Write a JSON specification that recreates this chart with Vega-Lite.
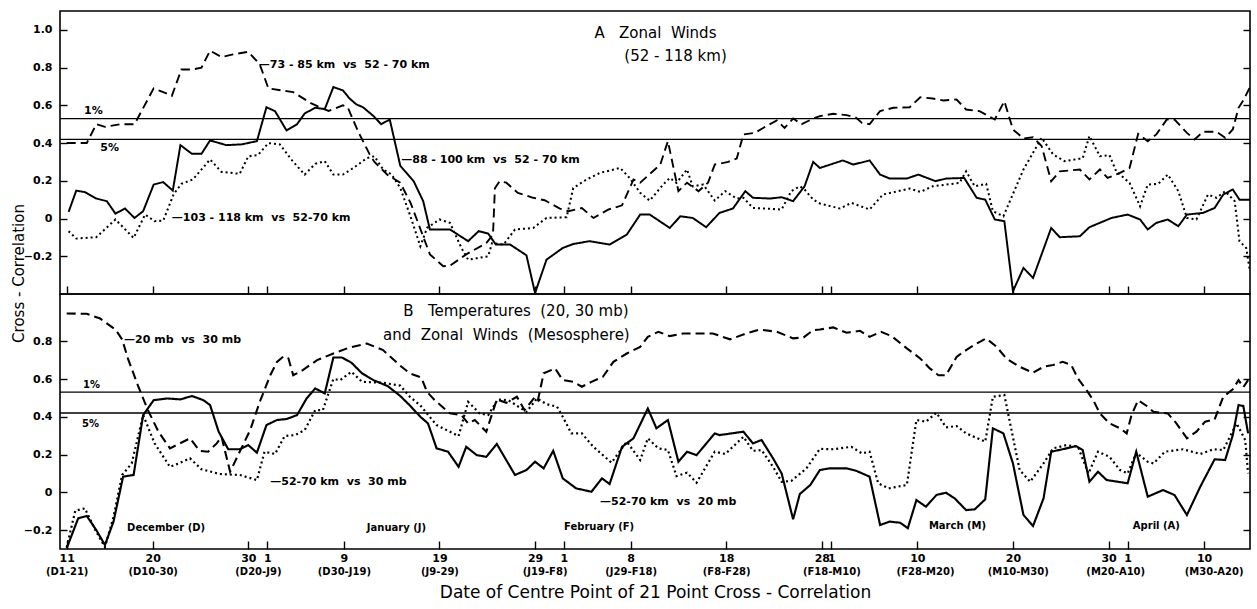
{
  "$schema": "https://vega.github.io/schema/vega-lite/v6.json",
  "padding": {"left": 10, "top": 10, "right": 5, "bottom": 5},
  "background": "white",
  "bounds": "flush",
  "spacing": 0,
  "config": {
    "view": {"stroke": "black", "strokeWidth": 1.6},
    "axis": {"labelFont": "DejaVu Sans", "labelFontWeight": "bold", "labelColor": "black", "tickColor": "black", "tickWidth": 1.4, "titleFont": "DejaVu Sans", "titleColor": "black", "titleFontWeight": "normal", "grid": false, "domain": false, "labelFlush": false, "labelOverlap": false, "labelBound": false},
    "text": {"font": "DejaVu Sans", "color": "black"}
  },
  "datasets": {
    "A": [
      {"series":"73-85 km vs 52-70 km","day":0,"r":0.40},{"series":"73-85 km vs 52-70 km","day":2.1,"r":0.40},{"series":"73-85 km vs 52-70 km","day":3.1,"r":0.50},{"series":"73-85 km vs 52-70 km","day":4.0,"r":0.486},{"series":"73-85 km vs 52-70 km","day":5.6,"r":0.50},{"series":"73-85 km vs 52-70 km","day":7.1,"r":0.50},{"series":"73-85 km vs 52-70 km","day":9.1,"r":0.69},{"series":"73-85 km vs 52-70 km","day":10.1,"r":0.67},{"series":"73-85 km vs 52-70 km","day":11.0,"r":0.65},{"series":"73-85 km vs 52-70 km","day":12.0,"r":0.79},{"series":"73-85 km vs 52-70 km","day":13.2,"r":0.79},{"series":"73-85 km vs 52-70 km","day":14.1,"r":0.80},{"series":"73-85 km vs 52-70 km","day":15.0,"r":0.89},{"series":"73-85 km vs 52-70 km","day":16.2,"r":0.856},{"series":"73-85 km vs 52-70 km","day":17.4,"r":0.87},{"series":"73-85 km vs 52-70 km","day":19.0,"r":0.884},{"series":"73-85 km vs 52-70 km","day":20.2,"r":0.817},{"series":"73-85 km vs 52-70 km","day":21.1,"r":0.69},{"series":"73-85 km vs 52-70 km","day":23.0,"r":0.675},{"series":"73-85 km vs 52-70 km","day":23.7,"r":0.67},{"series":"73-85 km vs 52-70 km","day":25.6,"r":0.61},{"series":"73-85 km vs 52-70 km","day":27.4,"r":0.57},{"series":"73-85 km vs 52-70 km","day":28.9,"r":0.60},{"series":"73-85 km vs 52-70 km","day":29.4,"r":0.59},{"series":"73-85 km vs 52-70 km","day":30.5,"r":0.46},{"series":"73-85 km vs 52-70 km","day":31.7,"r":0.34},{"series":"73-85 km vs 52-70 km","day":32.2,"r":0.30},{"series":"73-85 km vs 52-70 km","day":33.6,"r":0.23},{"series":"73-85 km vs 52-70 km","day":34.9,"r":0.19},{"series":"73-85 km vs 52-70 km","day":36.0,"r":0.08},{"series":"73-85 km vs 52-70 km","day":38.0,"r":-0.19},{"series":"73-85 km vs 52-70 km","day":39.4,"r":-0.253},{"series":"73-85 km vs 52-70 km","day":40.1,"r":-0.25},{"series":"73-85 km vs 52-70 km","day":41.8,"r":-0.19},{"series":"73-85 km vs 52-70 km","day":43.9,"r":-0.13},{"series":"73-85 km vs 52-70 km","day":44.6,"r":-0.085},{"series":"73-85 km vs 52-70 km","day":44.8,"r":0.16},{"series":"73-85 km vs 52-70 km","day":45.3,"r":0.198},{"series":"73-85 km vs 52-70 km","day":46.0,"r":0.19},{"series":"73-85 km vs 52-70 km","day":47.2,"r":0.136},{"series":"73-85 km vs 52-70 km","day":48.8,"r":0.11},{"series":"73-85 km vs 52-70 km","day":50.0,"r":0.097},{"series":"73-85 km vs 52-70 km","day":51.6,"r":0.053},{"series":"73-85 km vs 52-70 km","day":52.5,"r":0.039},{"series":"73-85 km vs 52-70 km","day":53.9,"r":0.056},{"series":"73-85 km vs 52-70 km","day":55.1,"r":0.003},{"series":"73-85 km vs 52-70 km","day":56.7,"r":0.048},{"series":"73-85 km vs 52-70 km","day":58.1,"r":0.07},{"series":"73-85 km vs 52-70 km","day":59.3,"r":0.207},{"series":"73-85 km vs 52-70 km","day":60.0,"r":0.19},{"series":"73-85 km vs 52-70 km","day":62.1,"r":0.286},{"series":"73-85 km vs 52-70 km","day":62.9,"r":0.41},{"series":"73-85 km vs 52-70 km","day":64.0,"r":0.145},{"series":"73-85 km vs 52-70 km","day":64.9,"r":0.19},{"series":"73-85 km vs 52-70 km","day":66.1,"r":0.145},{"series":"73-85 km vs 52-70 km","day":67.1,"r":0.19},{"series":"73-85 km vs 52-70 km","day":67.8,"r":0.286},{"series":"73-85 km vs 52-70 km","day":69.2,"r":0.30},{"series":"73-85 km vs 52-70 km","day":70.1,"r":0.318},{"series":"73-85 km vs 52-70 km","day":70.8,"r":0.446},{"series":"73-85 km vs 52-70 km","day":72.0,"r":0.454},{"series":"73-85 km vs 52-70 km","day":73.2,"r":0.49},{"series":"73-85 km vs 52-70 km","day":74.3,"r":0.52},{"series":"73-85 km vs 52-70 km","day":75.1,"r":0.48},{"series":"73-85 km vs 52-70 km","day":76.0,"r":0.53},{"series":"73-85 km vs 52-70 km","day":76.9,"r":0.50},{"series":"73-85 km vs 52-70 km","day":78.1,"r":0.53},{"series":"73-85 km vs 52-70 km","day":78.8,"r":0.543},{"series":"73-85 km vs 52-70 km","day":80.2,"r":0.555},{"series":"73-85 km vs 52-70 km","day":81.6,"r":0.548},{"series":"73-85 km vs 52-70 km","day":82.6,"r":0.534},{"series":"73-85 km vs 52-70 km","day":83.2,"r":0.507},{"series":"73-85 km vs 52-70 km","day":84.0,"r":0.50},{"series":"73-85 km vs 52-70 km","day":84.4,"r":0.525},{"series":"73-85 km vs 52-70 km","day":85.1,"r":0.57},{"series":"73-85 km vs 52-70 km","day":86.5,"r":0.587},{"series":"73-85 km vs 52-70 km","day":88.2,"r":0.59},{"series":"73-85 km vs 52-70 km","day":89.3,"r":0.643},{"series":"73-85 km vs 52-70 km","day":90.6,"r":0.636},{"series":"73-85 km vs 52-70 km","day":91.7,"r":0.626},{"series":"73-85 km vs 52-70 km","day":93.1,"r":0.631},{"series":"73-85 km vs 52-70 km","day":94.1,"r":0.578},{"series":"73-85 km vs 52-70 km","day":95.5,"r":0.569},{"series":"73-85 km vs 52-70 km","day":97.1,"r":0.525},{"series":"73-85 km vs 52-70 km","day":98.1,"r":0.622},{"series":"73-85 km vs 52-70 km","day":99.0,"r":0.472},{"series":"73-85 km vs 52-70 km","day":100.1,"r":0.424},{"series":"73-85 km vs 52-70 km","day":101.1,"r":0.431},{"series":"73-85 km vs 52-70 km","day":102.0,"r":0.384},{"series":"73-85 km vs 52-70 km","day":103.0,"r":0.198},{"series":"73-85 km vs 52-70 km","day":103.9,"r":0.25},{"series":"73-85 km vs 52-70 km","day":106.0,"r":0.26},{"series":"73-85 km vs 52-70 km","day":107.0,"r":0.207},{"series":"73-85 km vs 52-70 km","day":108.1,"r":0.26},{"series":"73-85 km vs 52-70 km","day":108.9,"r":0.215},{"series":"73-85 km vs 52-70 km","day":110.2,"r":0.242},{"series":"73-85 km vs 52-70 km","day":111.2,"r":0.268},{"series":"73-85 km vs 52-70 km","day":112.1,"r":0.449},{"series":"73-85 km vs 52-70 km","day":113.1,"r":0.41},{"series":"73-85 km vs 52-70 km","day":114.0,"r":0.446},{"series":"73-85 km vs 52-70 km","day":115.1,"r":0.525},{"series":"73-85 km vs 52-70 km","day":115.9,"r":0.525},{"series":"73-85 km vs 52-70 km","day":117.2,"r":0.454},{"series":"73-85 km vs 52-70 km","day":118.0,"r":0.419},{"series":"73-85 km vs 52-70 km","day":118.9,"r":0.46},{"series":"73-85 km vs 52-70 km","day":120.3,"r":0.46},{"series":"73-85 km vs 52-70 km","day":121.2,"r":0.428},{"series":"73-85 km vs 52-70 km","day":122.0,"r":0.472},{"series":"73-85 km vs 52-70 km","day":122.6,"r":0.587},{"series":"73-85 km vs 52-70 km","day":123.1,"r":0.626},{"series":"73-85 km vs 52-70 km","day":123.8,"r":0.697},
      {"series":"88-100 km vs 52-70 km","day":0.2,"r":0.035},{"series":"88-100 km vs 52-70 km","day":1.0,"r":0.148},{"series":"88-100 km vs 52-70 km","day":1.9,"r":0.14},{"series":"88-100 km vs 52-70 km","day":3.1,"r":0.106},{"series":"88-100 km vs 52-70 km","day":4.2,"r":0.092},{"series":"88-100 km vs 52-70 km","day":5.1,"r":0.026},{"series":"88-100 km vs 52-70 km","day":6.1,"r":0.053},{"series":"88-100 km vs 52-70 km","day":7.1,"r":0.003},{"series":"88-100 km vs 52-70 km","day":8.0,"r":0.039},{"series":"88-100 km vs 52-70 km","day":9.1,"r":0.18},{"series":"88-100 km vs 52-70 km","day":10.1,"r":0.193},{"series":"88-100 km vs 52-70 km","day":11.1,"r":0.148},{"series":"88-100 km vs 52-70 km","day":11.9,"r":0.389},{"series":"88-100 km vs 52-70 km","day":13.1,"r":0.343},{"series":"88-100 km vs 52-70 km","day":14.1,"r":0.343},{"series":"88-100 km vs 52-70 km","day":15.0,"r":0.414},{"series":"88-100 km vs 52-70 km","day":16.7,"r":0.389},{"series":"88-100 km vs 52-70 km","day":18.3,"r":0.393},{"series":"88-100 km vs 52-70 km","day":19.9,"r":0.41},{"series":"88-100 km vs 52-70 km","day":20.9,"r":0.59},{"series":"88-100 km vs 52-70 km","day":21.8,"r":0.569},{"series":"88-100 km vs 52-70 km","day":23.0,"r":0.467},{"series":"88-100 km vs 52-70 km","day":24.1,"r":0.50},{"series":"88-100 km vs 52-70 km","day":24.9,"r":0.557},{"series":"88-100 km vs 52-70 km","day":26.0,"r":0.587},{"series":"88-100 km vs 52-70 km","day":27.0,"r":0.58},{"series":"88-100 km vs 52-70 km","day":27.9,"r":0.697},{"series":"88-100 km vs 52-70 km","day":28.9,"r":0.679},{"series":"88-100 km vs 52-70 km","day":29.6,"r":0.636},{"series":"88-100 km vs 52-70 km","day":30.3,"r":0.605},{"series":"88-100 km vs 52-70 km","day":31.0,"r":0.59},{"series":"88-100 km vs 52-70 km","day":32.1,"r":0.543},{"series":"88-100 km vs 52-70 km","day":32.9,"r":0.50},{"series":"88-100 km vs 52-70 km","day":33.8,"r":0.525},{"series":"88-100 km vs 52-70 km","day":34.9,"r":0.28},{"series":"88-100 km vs 52-70 km","day":36.3,"r":0.198},{"series":"88-100 km vs 52-70 km","day":37.3,"r":0.092},{"series":"88-100 km vs 52-70 km","day":38.0,"r":-0.058},{"series":"88-100 km vs 52-70 km","day":40.1,"r":-0.058},{"series":"88-100 km vs 52-70 km","day":42.0,"r":-0.12},{"series":"88-100 km vs 52-70 km","day":43.1,"r":-0.067},{"series":"88-100 km vs 52-70 km","day":44.1,"r":-0.08},{"series":"88-100 km vs 52-70 km","day":44.9,"r":-0.138},{"series":"88-100 km vs 52-70 km","day":46.4,"r":-0.138},{"series":"88-100 km vs 52-70 km","day":48.1,"r":-0.195},{"series":"88-100 km vs 52-70 km","day":49.0,"r":-0.395},{"series":"88-100 km vs 52-70 km","day":50.2,"r":-0.218},{"series":"88-100 km vs 52-70 km","day":51.9,"r":-0.156},{"series":"88-100 km vs 52-70 km","day":53.0,"r":-0.135},{"series":"88-100 km vs 52-70 km","day":54.7,"r":-0.12},{"series":"88-100 km vs 52-70 km","day":56.8,"r":-0.138},{"series":"88-100 km vs 52-70 km","day":58.6,"r":-0.085},{"series":"88-100 km vs 52-70 km","day":60.0,"r":0.021},{"series":"88-100 km vs 52-70 km","day":61.0,"r":0.021},{"series":"88-100 km vs 52-70 km","day":63.1,"r":-0.05},{"series":"88-100 km vs 52-70 km","day":64.2,"r":0.012},{"series":"88-100 km vs 52-70 km","day":65.5,"r":0.003},{"series":"88-100 km vs 52-70 km","day":66.9,"r":-0.046},{"series":"88-100 km vs 52-70 km","day":68.3,"r":0.03},{"series":"88-100 km vs 52-70 km","day":69.7,"r":0.053},{"series":"88-100 km vs 52-70 km","day":71.0,"r":0.145},{"series":"88-100 km vs 52-70 km","day":71.8,"r":0.11},{"series":"88-100 km vs 52-70 km","day":73.6,"r":0.106},{"series":"88-100 km vs 52-70 km","day":74.8,"r":0.113},{"series":"88-100 km vs 52-70 km","day":76.0,"r":0.092},{"series":"88-100 km vs 52-70 km","day":77.2,"r":0.171},{"series":"88-100 km vs 52-70 km","day":78.1,"r":0.30},{"series":"88-100 km vs 52-70 km","day":78.8,"r":0.268},{"series":"88-100 km vs 52-70 km","day":81.2,"r":0.308},{"series":"88-100 km vs 52-70 km","day":82.3,"r":0.286},{"series":"88-100 km vs 52-70 km","day":84.0,"r":0.308},{"series":"88-100 km vs 52-70 km","day":85.1,"r":0.233},{"series":"88-100 km vs 52-70 km","day":86.1,"r":0.212},{"series":"88-100 km vs 52-70 km","day":87.9,"r":0.212},{"series":"88-100 km vs 52-70 km","day":89.1,"r":0.233},{"series":"88-100 km vs 52-70 km","day":90.9,"r":0.198},{"series":"88-100 km vs 52-70 km","day":92.0,"r":0.212},{"series":"88-100 km vs 52-70 km","day":93.9,"r":0.215},{"series":"88-100 km vs 52-70 km","day":95.2,"r":0.11},{"series":"88-100 km vs 52-70 km","day":96.1,"r":0.10},{"series":"88-100 km vs 52-70 km","day":97.1,"r":-0.005},{"series":"88-100 km vs 52-70 km","day":98.1,"r":-0.014},{"series":"88-100 km vs 52-70 km","day":99.0,"r":-0.385},{"series":"88-100 km vs 52-70 km","day":100.1,"r":-0.262},{"series":"88-100 km vs 52-70 km","day":101.1,"r":-0.315},{"series":"88-100 km vs 52-70 km","day":103.0,"r":-0.05},{"series":"88-100 km vs 52-70 km","day":103.9,"r":-0.099},{"series":"88-100 km vs 52-70 km","day":106.0,"r":-0.094},{"series":"88-100 km vs 52-70 km","day":107.0,"r":-0.046},{"series":"88-100 km vs 52-70 km","day":109.3,"r":0.003},{"series":"88-100 km vs 52-70 km","day":111.0,"r":0.021},{"series":"88-100 km vs 52-70 km","day":112.3,"r":-0.005},{"series":"88-100 km vs 52-70 km","day":113.1,"r":-0.058},{"series":"88-100 km vs 52-70 km","day":114.0,"r":-0.023},{"series":"88-100 km vs 52-70 km","day":115.2,"r":-0.005},{"series":"88-100 km vs 52-70 km","day":116.3,"r":-0.041},{"series":"88-100 km vs 52-70 km","day":117.2,"r":0.021},{"series":"88-100 km vs 52-70 km","day":118.9,"r":0.03},{"series":"88-100 km vs 52-70 km","day":120.1,"r":0.056},{"series":"88-100 km vs 52-70 km","day":121.0,"r":0.127},{"series":"88-100 km vs 52-70 km","day":122.0,"r":0.154},{"series":"88-100 km vs 52-70 km","day":122.7,"r":0.10},{"series":"88-100 km vs 52-70 km","day":123.8,"r":0.10},
      {"series":"103-118 km vs 52-70 km","day":0.2,"r":-0.067},{"series":"103-118 km vs 52-70 km","day":1.0,"r":-0.106},{"series":"103-118 km vs 52-70 km","day":3.1,"r":-0.099},{"series":"103-118 km vs 52-70 km","day":5.1,"r":-0.005},{"series":"103-118 km vs 52-70 km","day":7.0,"r":-0.103},{"series":"103-118 km vs 52-70 km","day":8.2,"r":0.021},{"series":"103-118 km vs 52-70 km","day":9.2,"r":-0.014},{"series":"103-118 km vs 52-70 km","day":10.1,"r":-0.011},{"series":"103-118 km vs 52-70 km","day":11.2,"r":0.13},{"series":"103-118 km vs 52-70 km","day":12.0,"r":0.184},{"series":"103-118 km vs 52-70 km","day":13.2,"r":0.207},{"series":"103-118 km vs 52-70 km","day":15.0,"r":0.313},{"series":"103-118 km vs 52-70 km","day":16.2,"r":0.247},{"series":"103-118 km vs 52-70 km","day":18.1,"r":0.237},{"series":"103-118 km vs 52-70 km","day":19.0,"r":0.33},{"series":"103-118 km vs 52-70 km","day":20.0,"r":0.336},{"series":"103-118 km vs 52-70 km","day":21.1,"r":0.40},{"series":"103-118 km vs 52-70 km","day":22.3,"r":0.393},{"series":"103-118 km vs 52-70 km","day":23.5,"r":0.313},{"series":"103-118 km vs 52-70 km","day":24.9,"r":0.233},{"series":"103-118 km vs 52-70 km","day":26.0,"r":0.29},{"series":"103-118 km vs 52-70 km","day":27.0,"r":0.304},{"series":"103-118 km vs 52-70 km","day":27.9,"r":0.233},{"series":"103-118 km vs 52-70 km","day":28.9,"r":0.233},{"series":"103-118 km vs 52-70 km","day":30.0,"r":0.268},{"series":"103-118 km vs 52-70 km","day":31.4,"r":0.32},{"series":"103-118 km vs 52-70 km","day":32.2,"r":0.33},{"series":"103-118 km vs 52-70 km","day":33.1,"r":0.26},{"series":"103-118 km vs 52-70 km","day":34.0,"r":0.233},{"series":"103-118 km vs 52-70 km","day":34.9,"r":0.162},{"series":"103-118 km vs 52-70 km","day":35.9,"r":0.021},{"series":"103-118 km vs 52-70 km","day":37.0,"r":-0.147},{"series":"103-118 km vs 52-70 km","day":37.7,"r":-0.05},{"series":"103-118 km vs 52-70 km","day":39.0,"r":-0.005},{"series":"103-118 km vs 52-70 km","day":40.1,"r":-0.023},{"series":"103-118 km vs 52-70 km","day":41.3,"r":-0.156},{"series":"103-118 km vs 52-70 km","day":42.0,"r":-0.218},{"series":"103-118 km vs 52-70 km","day":44.1,"r":-0.2},{"series":"103-118 km vs 52-70 km","day":44.5,"r":-0.13},{"series":"103-118 km vs 52-70 km","day":45.7,"r":-0.138},{"series":"103-118 km vs 52-70 km","day":46.9,"r":-0.058},{"series":"103-118 km vs 52-70 km","day":48.8,"r":-0.05},{"series":"103-118 km vs 52-70 km","day":50.2,"r":0.003},{"series":"103-118 km vs 52-70 km","day":52.3,"r":0.007},{"series":"103-118 km vs 52-70 km","day":53.0,"r":0.162},{"series":"103-118 km vs 52-70 km","day":54.4,"r":0.207},{"series":"103-118 km vs 52-70 km","day":55.8,"r":0.242},{"series":"103-118 km vs 52-70 km","day":57.9,"r":0.268},{"series":"103-118 km vs 52-70 km","day":58.9,"r":0.215},{"series":"103-118 km vs 52-70 km","day":60.0,"r":0.136},{"series":"103-118 km vs 52-70 km","day":61.0,"r":0.095},{"series":"103-118 km vs 52-70 km","day":62.4,"r":0.18},{"series":"103-118 km vs 52-70 km","day":63.1,"r":0.215},{"series":"103-118 km vs 52-70 km","day":63.8,"r":0.189},{"series":"103-118 km vs 52-70 km","day":64.9,"r":0.26},{"series":"103-118 km vs 52-70 km","day":65.5,"r":0.171},{"series":"103-118 km vs 52-70 km","day":66.6,"r":0.18},{"series":"103-118 km vs 52-70 km","day":67.8,"r":0.095},{"series":"103-118 km vs 52-70 km","day":68.9,"r":0.145},{"series":"103-118 km vs 52-70 km","day":70.1,"r":0.106},{"series":"103-118 km vs 52-70 km","day":70.8,"r":0.11},{"series":"103-118 km vs 52-70 km","day":71.8,"r":0.056},{"series":"103-118 km vs 52-70 km","day":74.8,"r":0.048},{"series":"103-118 km vs 52-70 km","day":75.8,"r":0.145},{"series":"103-118 km vs 52-70 km","day":76.7,"r":0.171},{"series":"103-118 km vs 52-70 km","day":77.2,"r":0.154},{"series":"103-118 km vs 52-70 km","day":78.1,"r":0.10},{"series":"103-118 km vs 52-70 km","day":78.8,"r":0.08},{"series":"103-118 km vs 52-70 km","day":80.9,"r":0.053},{"series":"103-118 km vs 52-70 km","day":82.1,"r":0.083},{"series":"103-118 km vs 52-70 km","day":84.0,"r":0.048},{"series":"103-118 km vs 52-70 km","day":85.4,"r":0.127},{"series":"103-118 km vs 52-70 km","day":88.2,"r":0.159},{"series":"103-118 km vs 52-70 km","day":89.3,"r":0.141},{"series":"103-118 km vs 52-70 km","day":90.6,"r":0.171},{"series":"103-118 km vs 52-70 km","day":93.4,"r":0.189},{"series":"103-118 km vs 52-70 km","day":94.1,"r":0.25},{"series":"103-118 km vs 52-70 km","day":95.0,"r":0.171},{"series":"103-118 km vs 52-70 km","day":96.2,"r":0.184},{"series":"103-118 km vs 52-70 km","day":96.9,"r":0.039},{"series":"103-118 km vs 52-70 km","day":98.0,"r":0.012},{"series":"103-118 km vs 52-70 km","day":100.1,"r":0.26},{"series":"103-118 km vs 52-70 km","day":102.0,"r":0.428},{"series":"103-118 km vs 52-70 km","day":103.2,"r":0.34},{"series":"103-118 km vs 52-70 km","day":104.4,"r":0.304},{"series":"103-118 km vs 52-70 km","day":106.3,"r":0.32},{"series":"103-118 km vs 52-70 km","day":107.0,"r":0.437},{"series":"103-118 km vs 52-70 km","day":108.1,"r":0.33},{"series":"103-118 km vs 52-70 km","day":109.1,"r":0.336},{"series":"103-118 km vs 52-70 km","day":109.8,"r":0.25},{"series":"103-118 km vs 52-70 km","day":111.2,"r":0.189},{"series":"103-118 km vs 52-70 km","day":112.3,"r":0.065},{"series":"103-118 km vs 52-70 km","day":113.1,"r":0.18},{"series":"103-118 km vs 52-70 km","day":114.2,"r":0.184},{"series":"103-118 km vs 52-70 km","day":115.2,"r":0.233},{"series":"103-118 km vs 52-70 km","day":116.3,"r":0.145},{"series":"103-118 km vs 52-70 km","day":117.2,"r":0.003},{"series":"103-118 km vs 52-70 km","day":118.2,"r":-0.005},{"series":"103-118 km vs 52-70 km","day":119.4,"r":0.127},{"series":"103-118 km vs 52-70 km","day":120.3,"r":0.11},{"series":"103-118 km vs 52-70 km","day":121.2,"r":0.145},{"series":"103-118 km vs 52-70 km","day":122.2,"r":0.092},{"series":"103-118 km vs 52-70 km","day":122.7,"r":-0.12},{"series":"103-118 km vs 52-70 km","day":123.4,"r":-0.156},{"series":"103-118 km vs 52-70 km","day":123.8,"r":-0.28}
    ],
    "B": [
      {"series":"20 mb vs 30 mb","day":0,"r":0.947},{"series":"20 mb vs 30 mb","day":2.1,"r":0.945},{"series":"20 mb vs 30 mb","day":3.5,"r":0.92},{"series":"20 mb vs 30 mb","day":5.1,"r":0.862},{"series":"20 mb vs 30 mb","day":5.8,"r":0.81},{"series":"20 mb vs 30 mb","day":6.4,"r":0.709},{"series":"20 mb vs 30 mb","day":7.5,"r":0.559},{"series":"20 mb vs 30 mb","day":8.5,"r":0.435},{"series":"20 mb vs 30 mb","day":9.6,"r":0.321},{"series":"20 mb vs 30 mb","day":10.8,"r":0.233},{"series":"20 mb vs 30 mb","day":12.9,"r":0.286},{"series":"20 mb vs 30 mb","day":13.9,"r":0.22},{"series":"20 mb vs 30 mb","day":14.8,"r":0.215},{"series":"20 mb vs 30 mb","day":15.7,"r":0.259},{"series":"20 mb vs 30 mb","day":16.2,"r":0.294},{"series":"20 mb vs 30 mb","day":17.1,"r":0.109},{"series":"20 mb vs 30 mb","day":18.1,"r":0.215},{"series":"20 mb vs 30 mb","day":19.2,"r":0.33},{"series":"20 mb vs 30 mb","day":20.2,"r":0.479},{"series":"20 mb vs 30 mb","day":21.3,"r":0.62},{"series":"20 mb vs 30 mb","day":22.0,"r":0.69},{"series":"20 mb vs 30 mb","day":22.7,"r":0.72},{"series":"20 mb vs 30 mb","day":23.2,"r":0.709},{"series":"20 mb vs 30 mb","day":23.7,"r":0.62},{"series":"20 mb vs 30 mb","day":24.7,"r":0.647},{"series":"20 mb vs 30 mb","day":26.2,"r":0.70},{"series":"20 mb vs 30 mb","day":27.9,"r":0.735},{"series":"20 mb vs 30 mb","day":29.6,"r":0.767},{"series":"20 mb vs 30 mb","day":31.4,"r":0.788},{"series":"20 mb vs 30 mb","day":33.1,"r":0.753},{"series":"20 mb vs 30 mb","day":34.9,"r":0.67},{"series":"20 mb vs 30 mb","day":35.9,"r":0.63},{"series":"20 mb vs 30 mb","day":37.1,"r":0.608},{"series":"20 mb vs 30 mb","day":37.7,"r":0.532},{"series":"20 mb vs 30 mb","day":38.5,"r":0.488},{"series":"20 mb vs 30 mb","day":40.1,"r":0.418},{"series":"20 mb vs 30 mb","day":41.3,"r":0.409},{"series":"20 mb vs 30 mb","day":42.0,"r":0.365},{"series":"20 mb vs 30 mb","day":42.7,"r":0.383},{"series":"20 mb vs 30 mb","day":43.9,"r":0.321},{"series":"20 mb vs 30 mb","day":45.0,"r":0.492},{"series":"20 mb vs 30 mb","day":46.0,"r":0.474},{"series":"20 mb vs 30 mb","day":47.1,"r":0.506},{"series":"20 mb vs 30 mb","day":47.9,"r":0.435},{"series":"20 mb vs 30 mb","day":49.0,"r":0.506},{"series":"20 mb vs 30 mb","day":49.3,"r":0.488},{"series":"20 mb vs 30 mb","day":49.9,"r":0.63},{"series":"20 mb vs 30 mb","day":51.1,"r":0.656},{"series":"20 mb vs 30 mb","day":51.9,"r":0.594},{"series":"20 mb vs 30 mb","day":53.0,"r":0.585},{"series":"20 mb vs 30 mb","day":53.9,"r":0.559},{"series":"20 mb vs 30 mb","day":54.9,"r":0.585},{"series":"20 mb vs 30 mb","day":56.1,"r":0.612},{"series":"20 mb vs 30 mb","day":57.2,"r":0.691},{"series":"20 mb vs 30 mb","day":58.6,"r":0.735},{"series":"20 mb vs 30 mb","day":60.0,"r":0.77},{"series":"20 mb vs 30 mb","day":60.8,"r":0.823},{"series":"20 mb vs 30 mb","day":61.9,"r":0.85},{"series":"20 mb vs 30 mb","day":63.1,"r":0.827},{"series":"20 mb vs 30 mb","day":64.5,"r":0.841},{"series":"20 mb vs 30 mb","day":67.6,"r":0.841},{"series":"20 mb vs 30 mb","day":69.4,"r":0.81},{"series":"20 mb vs 30 mb","day":71.1,"r":0.841},{"series":"20 mb vs 30 mb","day":72.5,"r":0.862},{"series":"20 mb vs 30 mb","day":74.3,"r":0.85},{"series":"20 mb vs 30 mb","day":76.0,"r":0.815},{"series":"20 mb vs 30 mb","day":77.1,"r":0.82},{"series":"20 mb vs 30 mb","day":78.1,"r":0.859},{"series":"20 mb vs 30 mb","day":78.8,"r":0.862},{"series":"20 mb vs 30 mb","day":80.2,"r":0.873},{"series":"20 mb vs 30 mb","day":81.6,"r":0.845},{"series":"20 mb vs 30 mb","day":83.0,"r":0.855},{"series":"20 mb vs 30 mb","day":84.0,"r":0.823},{"series":"20 mb vs 30 mb","day":85.2,"r":0.85},{"series":"20 mb vs 30 mb","day":86.3,"r":0.827},{"series":"20 mb vs 30 mb","day":87.9,"r":0.762},{"series":"20 mb vs 30 mb","day":89.3,"r":0.709},{"series":"20 mb vs 30 mb","day":90.3,"r":0.656},{"series":"20 mb vs 30 mb","day":91.2,"r":0.62},{"series":"20 mb vs 30 mb","day":92.0,"r":0.62},{"series":"20 mb vs 30 mb","day":93.1,"r":0.717},{"series":"20 mb vs 30 mb","day":94.1,"r":0.753},{"series":"20 mb vs 30 mb","day":95.2,"r":0.788},{"series":"20 mb vs 30 mb","day":96.2,"r":0.815},{"series":"20 mb vs 30 mb","day":97.3,"r":0.77},{"series":"20 mb vs 30 mb","day":98.3,"r":0.709},{"series":"20 mb vs 30 mb","day":99.7,"r":0.665},{"series":"20 mb vs 30 mb","day":101.1,"r":0.633},{"series":"20 mb vs 30 mb","day":102.2,"r":0.665},{"series":"20 mb vs 30 mb","day":103.2,"r":0.674},{"series":"20 mb vs 30 mb","day":104.2,"r":0.691},{"series":"20 mb vs 30 mb","day":105.1,"r":0.674},{"series":"20 mb vs 30 mb","day":105.8,"r":0.603},{"series":"20 mb vs 30 mb","day":106.7,"r":0.541},{"series":"20 mb vs 30 mb","day":107.4,"r":0.488},{"series":"20 mb vs 30 mb","day":108.1,"r":0.418},{"series":"20 mb vs 30 mb","day":109.1,"r":0.365},{"series":"20 mb vs 30 mb","day":110.2,"r":0.339},{"series":"20 mb vs 30 mb","day":110.9,"r":0.312},{"series":"20 mb vs 30 mb","day":111.4,"r":0.409},{"series":"20 mb vs 30 mb","day":112.1,"r":0.488},{"series":"20 mb vs 30 mb","day":113.0,"r":0.457},{"series":"20 mb vs 30 mb","day":113.7,"r":0.426},{"series":"20 mb vs 30 mb","day":115.2,"r":0.418},{"series":"20 mb vs 30 mb","day":116.1,"r":0.365},{"series":"20 mb vs 30 mb","day":117.2,"r":0.286},{"series":"20 mb vs 30 mb","day":118.2,"r":0.321},{"series":"20 mb vs 30 mb","day":119.1,"r":0.374},{"series":"20 mb vs 30 mb","day":120.1,"r":0.386},{"series":"20 mb vs 30 mb","day":121.0,"r":0.506},{"series":"20 mb vs 30 mb","day":122.0,"r":0.545},{"series":"20 mb vs 30 mb","day":122.6,"r":0.594},{"series":"20 mb vs 30 mb","day":123.1,"r":0.556},{"series":"20 mb vs 30 mb","day":123.6,"r":0.594},
      {"series":"52-70 km vs 20 mb","day":0,"r":-0.296},{"series":"52-70 km vs 20 mb","day":1.2,"r":-0.138},{"series":"52-70 km vs 20 mb","day":2.1,"r":-0.125},{"series":"52-70 km vs 20 mb","day":3.1,"r":-0.2},{"series":"52-70 km vs 20 mb","day":4.0,"r":-0.279},{"series":"52-70 km vs 20 mb","day":4.9,"r":-0.155},{"series":"52-70 km vs 20 mb","day":5.9,"r":0.083},{"series":"52-70 km vs 20 mb","day":7.0,"r":0.092},{"series":"52-70 km vs 20 mb","day":8.0,"r":0.409},{"series":"52-70 km vs 20 mb","day":9.1,"r":0.488},{"series":"52-70 km vs 20 mb","day":10.5,"r":0.497},{"series":"52-70 km vs 20 mb","day":11.9,"r":0.492},{"series":"52-70 km vs 20 mb","day":13.1,"r":0.51},{"series":"52-70 km vs 20 mb","day":14.3,"r":0.488},{"series":"52-70 km vs 20 mb","day":15.0,"r":0.462},{"series":"52-70 km vs 20 mb","day":15.9,"r":0.321},{"series":"52-70 km vs 20 mb","day":16.9,"r":0.228},{"series":"52-70 km vs 20 mb","day":18.1,"r":0.228},{"series":"52-70 km vs 20 mb","day":19.0,"r":0.25},{"series":"52-70 km vs 20 mb","day":19.9,"r":0.21},{"series":"52-70 km vs 20 mb","day":20.9,"r":0.356},{"series":"52-70 km vs 20 mb","day":22.0,"r":0.383},{"series":"52-70 km vs 20 mb","day":23.0,"r":0.388},{"series":"52-70 km vs 20 mb","day":24.1,"r":0.409},{"series":"52-70 km vs 20 mb","day":25.1,"r":0.497},{"series":"52-70 km vs 20 mb","day":26.0,"r":0.55},{"series":"52-70 km vs 20 mb","day":27.0,"r":0.524},{"series":"52-70 km vs 20 mb","day":27.9,"r":0.714},{"series":"52-70 km vs 20 mb","day":28.8,"r":0.714},{"series":"52-70 km vs 20 mb","day":29.8,"r":0.686},{"series":"52-70 km vs 20 mb","day":30.9,"r":0.63},{"series":"52-70 km vs 20 mb","day":32.1,"r":0.594},{"series":"52-70 km vs 20 mb","day":33.6,"r":0.562},{"series":"52-70 km vs 20 mb","day":34.9,"r":0.51},{"series":"52-70 km vs 20 mb","day":35.9,"r":0.46},{"series":"52-70 km vs 20 mb","day":37.0,"r":0.40},{"series":"52-70 km vs 20 mb","day":37.8,"r":0.365},{"series":"52-70 km vs 20 mb","day":38.7,"r":0.233},{"series":"52-70 km vs 20 mb","day":39.9,"r":0.215},{"series":"52-70 km vs 20 mb","day":41.0,"r":0.135},{"series":"52-70 km vs 20 mb","day":41.8,"r":0.241},{"series":"52-70 km vs 20 mb","day":42.9,"r":0.197},{"series":"52-70 km vs 20 mb","day":43.9,"r":0.188},{"series":"52-70 km vs 20 mb","day":45.0,"r":0.256},{"series":"52-70 km vs 20 mb","day":46.9,"r":0.092},{"series":"52-70 km vs 20 mb","day":48.1,"r":0.118},{"series":"52-70 km vs 20 mb","day":49.0,"r":0.162},{"series":"52-70 km vs 20 mb","day":49.9,"r":0.127},{"series":"52-70 km vs 20 mb","day":50.9,"r":0.22},{"series":"52-70 km vs 20 mb","day":51.9,"r":0.074},{"series":"52-70 km vs 20 mb","day":53.3,"r":0.021},{"series":"52-70 km vs 20 mb","day":54.9,"r":0.003},{"series":"52-70 km vs 20 mb","day":56.0,"r":0.074},{"series":"52-70 km vs 20 mb","day":56.8,"r":0.044},{"series":"52-70 km vs 20 mb","day":58.1,"r":0.241},{"series":"52-70 km vs 20 mb","day":59.3,"r":0.286},{"series":"52-70 km vs 20 mb","day":60.8,"r":0.444},{"series":"52-70 km vs 20 mb","day":61.7,"r":0.339},{"series":"52-70 km vs 20 mb","day":62.9,"r":0.383},{"series":"52-70 km vs 20 mb","day":64.0,"r":0.162},{"series":"52-70 km vs 20 mb","day":64.9,"r":0.215},{"series":"52-70 km vs 20 mb","day":65.9,"r":0.197},{"series":"52-70 km vs 20 mb","day":67.8,"r":0.312},{"series":"52-70 km vs 20 mb","day":68.3,"r":0.303},{"series":"52-70 km vs 20 mb","day":70.8,"r":0.321},{"series":"52-70 km vs 20 mb","day":71.8,"r":0.259},{"series":"52-70 km vs 20 mb","day":72.7,"r":0.277},{"series":"52-70 km vs 20 mb","day":73.9,"r":0.18},{"series":"52-70 km vs 20 mb","day":74.8,"r":0.1},{"series":"52-70 km vs 20 mb","day":76.0,"r":-0.143},{"series":"52-70 km vs 20 mb","day":76.7,"r":-0.009},{"series":"52-70 km vs 20 mb","day":77.8,"r":0.039},{"series":"52-70 km vs 20 mb","day":78.8,"r":0.118},{"series":"52-70 km vs 20 mb","day":79.8,"r":0.127},{"series":"52-70 km vs 20 mb","day":81.6,"r":0.127},{"series":"52-70 km vs 20 mb","day":82.6,"r":0.114},{"series":"52-70 km vs 20 mb","day":84.0,"r":0.083},{"series":"52-70 km vs 20 mb","day":85.1,"r":-0.173},{"series":"52-70 km vs 20 mb","day":86.1,"r":-0.155},{"series":"52-70 km vs 20 mb","day":87.2,"r":-0.161},{"series":"52-70 km vs 20 mb","day":88.0,"r":-0.19},{"series":"52-70 km vs 20 mb","day":88.9,"r":-0.041},{"series":"52-70 km vs 20 mb","day":89.9,"r":-0.076},{"series":"52-70 km vs 20 mb","day":91.0,"r":-0.014},{"series":"52-70 km vs 20 mb","day":92.0,"r":-0.002},{"series":"52-70 km vs 20 mb","day":92.9,"r":-0.032},{"series":"52-70 km vs 20 mb","day":94.1,"r":-0.094},{"series":"52-70 km vs 20 mb","day":95.0,"r":-0.09},{"series":"52-70 km vs 20 mb","day":96.1,"r":-0.037},{"series":"52-70 km vs 20 mb","day":96.9,"r":0.339},{"series":"52-70 km vs 20 mb","day":98.0,"r":0.312},{"series":"52-70 km vs 20 mb","day":99.0,"r":0.153},{"series":"52-70 km vs 20 mb","day":100.1,"r":-0.12},{"series":"52-70 km vs 20 mb","day":101.1,"r":-0.178},{"series":"52-70 km vs 20 mb","day":102.2,"r":-0.032},{"series":"52-70 km vs 20 mb","day":103.0,"r":0.215},{"series":"52-70 km vs 20 mb","day":104.2,"r":0.228},{"series":"52-70 km vs 20 mb","day":105.6,"r":0.245},{"series":"52-70 km vs 20 mb","day":106.3,"r":0.224},{"series":"52-70 km vs 20 mb","day":107.0,"r":0.056},{"series":"52-70 km vs 20 mb","day":107.9,"r":0.109},{"series":"52-70 km vs 20 mb","day":108.8,"r":0.065},{"series":"52-70 km vs 20 mb","day":111.0,"r":0.048},{"series":"52-70 km vs 20 mb","day":111.9,"r":0.215},{"series":"52-70 km vs 20 mb","day":113.1,"r":-0.023},{"series":"52-70 km vs 20 mb","day":114.7,"r":0.012},{"series":"52-70 km vs 20 mb","day":115.9,"r":-0.014},{"series":"52-70 km vs 20 mb","day":117.2,"r":-0.12},{"series":"52-70 km vs 20 mb","day":118.6,"r":0.03},{"series":"52-70 km vs 20 mb","day":120.1,"r":0.175},{"series":"52-70 km vs 20 mb","day":121.2,"r":0.171},{"series":"52-70 km vs 20 mb","day":122.0,"r":0.303},{"series":"52-70 km vs 20 mb","day":122.6,"r":0.462},{"series":"52-70 km vs 20 mb","day":123.1,"r":0.457},{"series":"52-70 km vs 20 mb","day":123.6,"r":0.312},
      {"series":"52-70 km vs 30 mb","day":0,"r":-0.29},{"series":"52-70 km vs 30 mb","day":0.9,"r":-0.097},{"series":"52-70 km vs 30 mb","day":1.9,"r":-0.085},{"series":"52-70 km vs 30 mb","day":3.0,"r":-0.2},{"series":"52-70 km vs 30 mb","day":4.0,"r":-0.29},{"series":"52-70 km vs 30 mb","day":4.9,"r":-0.129},{"series":"52-70 km vs 30 mb","day":5.8,"r":0.092},{"series":"52-70 km vs 30 mb","day":6.8,"r":0.153},{"series":"52-70 km vs 30 mb","day":8.0,"r":0.409},{"series":"52-70 km vs 30 mb","day":9.2,"r":0.259},{"series":"52-70 km vs 30 mb","day":10.8,"r":0.135},{"series":"52-70 km vs 30 mb","day":11.7,"r":0.153},{"series":"52-70 km vs 30 mb","day":12.9,"r":0.18},{"series":"52-70 km vs 30 mb","day":14.1,"r":0.122},{"series":"52-70 km vs 30 mb","day":16.0,"r":0.097},{"series":"52-70 km vs 30 mb","day":18.1,"r":0.092},{"series":"52-70 km vs 30 mb","day":19.9,"r":0.065},{"series":"52-70 km vs 30 mb","day":20.7,"r":0.215},{"series":"52-70 km vs 30 mb","day":21.8,"r":0.203},{"series":"52-70 km vs 30 mb","day":22.8,"r":0.298},{"series":"52-70 km vs 30 mb","day":23.9,"r":0.303},{"series":"52-70 km vs 30 mb","day":24.9,"r":0.33},{"series":"52-70 km vs 30 mb","day":26.0,"r":0.435},{"series":"52-70 km vs 30 mb","day":26.8,"r":0.435},{"series":"52-70 km vs 30 mb","day":27.9,"r":0.60},{"series":"52-70 km vs 30 mb","day":28.6,"r":0.594},{"series":"52-70 km vs 30 mb","day":29.8,"r":0.638},{"series":"52-70 km vs 30 mb","day":30.9,"r":0.585},{"series":"52-70 km vs 30 mb","day":33.1,"r":0.58},{"series":"52-70 km vs 30 mb","day":34.9,"r":0.565},{"series":"52-70 km vs 30 mb","day":35.9,"r":0.506},{"series":"52-70 km vs 30 mb","day":37.0,"r":0.46},{"series":"52-70 km vs 30 mb","day":38.7,"r":0.356},{"series":"52-70 km vs 30 mb","day":41.0,"r":0.298},{"series":"52-70 km vs 30 mb","day":42.0,"r":0.479},{"series":"52-70 km vs 30 mb","day":43.2,"r":0.418},{"series":"52-70 km vs 30 mb","day":44.1,"r":0.409},{"series":"52-70 km vs 30 mb","day":45.1,"r":0.492},{"series":"52-70 km vs 30 mb","day":46.2,"r":0.488},{"series":"52-70 km vs 30 mb","day":48.1,"r":0.426},{"series":"52-70 km vs 30 mb","day":49.2,"r":0.497},{"series":"52-70 km vs 30 mb","day":50.2,"r":0.467},{"series":"52-70 km vs 30 mb","day":51.3,"r":0.453},{"series":"52-70 km vs 30 mb","day":51.9,"r":0.40},{"series":"52-70 km vs 30 mb","day":52.8,"r":0.312},{"series":"52-70 km vs 30 mb","day":53.9,"r":0.312},{"series":"52-70 km vs 30 mb","day":55.1,"r":0.241},{"series":"52-70 km vs 30 mb","day":57.0,"r":0.157},{"series":"52-70 km vs 30 mb","day":58.6,"r":0.268},{"series":"52-70 km vs 30 mb","day":60.0,"r":0.171},{"series":"52-70 km vs 30 mb","day":60.8,"r":0.286},{"series":"52-70 km vs 30 mb","day":61.9,"r":0.233},{"series":"52-70 km vs 30 mb","day":62.9,"r":0.224},{"series":"52-70 km vs 30 mb","day":63.8,"r":0.086},{"series":"52-70 km vs 30 mb","day":64.9,"r":0.104},{"series":"52-70 km vs 30 mb","day":65.9,"r":0.051},{"series":"52-70 km vs 30 mb","day":67.8,"r":0.215},{"series":"52-70 km vs 30 mb","day":68.9,"r":0.203},{"series":"52-70 km vs 30 mb","day":70.8,"r":0.294},{"series":"52-70 km vs 30 mb","day":71.8,"r":0.22},{"series":"52-70 km vs 30 mb","day":72.7,"r":0.224},{"series":"52-70 km vs 30 mb","day":73.9,"r":0.135},{"series":"52-70 km vs 30 mb","day":74.8,"r":0.056},{"series":"52-70 km vs 30 mb","day":75.8,"r":0.06},{"series":"52-70 km vs 30 mb","day":77.4,"r":0.127},{"series":"52-70 km vs 30 mb","day":78.8,"r":0.23},{"series":"52-70 km vs 30 mb","day":80.2,"r":0.228},{"series":"52-70 km vs 30 mb","day":82.1,"r":0.241},{"series":"52-70 km vs 30 mb","day":83.2,"r":0.206},{"series":"52-70 km vs 30 mb","day":84.0,"r":0.215},{"series":"52-70 km vs 30 mb","day":84.9,"r":0.048},{"series":"52-70 km vs 30 mb","day":86.0,"r":0.021},{"series":"52-70 km vs 30 mb","day":87.9,"r":0.039},{"series":"52-70 km vs 30 mb","day":88.9,"r":0.383},{"series":"52-70 km vs 30 mb","day":89.9,"r":0.374},{"series":"52-70 km vs 30 mb","day":91.0,"r":0.421},{"series":"52-70 km vs 30 mb","day":92.0,"r":0.344},{"series":"52-70 km vs 30 mb","day":93.1,"r":0.351},{"series":"52-70 km vs 30 mb","day":94.1,"r":0.312},{"series":"52-70 km vs 30 mb","day":96.1,"r":0.268},{"series":"52-70 km vs 30 mb","day":96.9,"r":0.506},{"series":"52-70 km vs 30 mb","day":98.1,"r":0.515},{"series":"52-70 km vs 30 mb","day":99.7,"r":0.118},{"series":"52-70 km vs 30 mb","day":100.8,"r":0.056},{"series":"52-70 km vs 30 mb","day":102.2,"r":0.153},{"series":"52-70 km vs 30 mb","day":103.2,"r":0.233},{"series":"52-70 km vs 30 mb","day":104.6,"r":0.25},{"series":"52-70 km vs 30 mb","day":105.8,"r":0.241},{"series":"52-70 km vs 30 mb","day":106.9,"r":0.1},{"series":"52-70 km vs 30 mb","day":107.9,"r":0.215},{"series":"52-70 km vs 30 mb","day":109.1,"r":0.188},{"series":"52-70 km vs 30 mb","day":110.2,"r":0.118},{"series":"52-70 km vs 30 mb","day":111.0,"r":0.1},{"series":"52-70 km vs 30 mb","day":111.9,"r":0.21},{"series":"52-70 km vs 30 mb","day":113.1,"r":0.162},{"series":"52-70 km vs 30 mb","day":113.7,"r":0.153},{"series":"52-70 km vs 30 mb","day":114.9,"r":0.215},{"series":"52-70 km vs 30 mb","day":116.8,"r":0.228},{"series":"52-70 km vs 30 mb","day":118.6,"r":0.203},{"series":"52-70 km vs 30 mb","day":120.0,"r":0.228},{"series":"52-70 km vs 30 mb","day":121.0,"r":0.224},{"series":"52-70 km vs 30 mb","day":122.4,"r":0.365},{"series":"52-70 km vs 30 mb","day":123.3,"r":0.277},{"series":"52-70 km vs 30 mb","day":123.6,"r":0.10}
    ],
    "levels": [{"level":"1%","r":0.53},{"level":"5%","r":0.42}],
    "notes": [
      {"panel":"A","kind":"heading","day":61.6,"r":0.985,"label":"A\u00a0\u00a0\u00a0Zonal\u00a0\u00a0Winds"},
      {"panel":"A","kind":"heading","day":63.7,"r":0.861,"label":"(52 - 118 km)"},
      {"panel":"A","kind":"series","day":20.1,"r":0.813,"label":"—73 - 85 km\u00a0\u00a0vs\u00a0\u00a052 - 70 km"},
      {"panel":"A","kind":"series","day":35.0,"r":0.309,"label":"—88 - 100 km\u00a0\u00a0vs\u00a0\u00a052 - 70 km"},
      {"panel":"A","kind":"series","day":11.0,"r":0.003,"label":"—103 - 118 km\u00a0\u00a0vs\u00a0\u00a052-70 km"},
      {"panel":"A","kind":"small","day":2.8,"r":0.569,"label":"1%"},
      {"panel":"A","kind":"small","day":4.5,"r":0.375,"label":"5%"},
      {"panel":"B","kind":"heading","day":47.0,"r":0.959,"label":"B\u00a0\u00a0\u00a0Temperatures\u00a0\u00a0(20, 30 mb)"},
      {"panel":"B","kind":"heading","day":46.0,"r":0.832,"label":"and\u00a0\u00a0Zonal\u00a0\u00a0Winds\u00a0\u00a0(Mesosphere)"},
      {"panel":"B","kind":"series","day":6.0,"r":0.806,"label":"—20 mb\u00a0\u00a0vs\u00a0\u00a030 mb"},
      {"panel":"B","kind":"series","day":21.3,"r":0.056,"label":"—52-70 km\u00a0\u00a0vs\u00a0\u00a030 mb"},
      {"panel":"B","kind":"series","day":55.8,"r":-0.05,"label":"—52-70 km\u00a0\u00a0vs\u00a0\u00a020 mb"},
      {"panel":"B","kind":"small","day":2.6,"r":0.568,"label":"1%"},
      {"panel":"B","kind":"small","day":2.5,"r":0.361,"label":"5%"},
      {"panel":"B","kind":"small","day":10.4,"r":-0.19,"label":"December (D)"},
      {"panel":"B","kind":"small","day":34.5,"r":-0.19,"label":"January (J)"},
      {"panel":"B","kind":"small","day":55.7,"r":-0.185,"label":"February (F)"},
      {"panel":"B","kind":"small","day":93.2,"r":-0.177,"label":"March (M)"},
      {"panel":"B","kind":"small","day":114.0,"r":-0.177,"label":"April (A)"}
    ]
  },
  "vconcat": [
    {
      "width": 1190,
      "height": 283,
      "layer": [
        {
          "data": {"name": "A"},
          "mark": {"type": "line", "clip": true, "color": "black"},
          "encoding": {
            "x": {"field": "day", "type": "quantitative", "scale": {"domain": [-0.7, 123.8], "nice": false, "zero": false},
              "axis": {"orient": "bottom", "values": [0,9,19,21,29,39,49,52,59,69,79,80,89,99,109,111,119], "labels": false, "tickSize": -8, "title": null}},
            "y": {"field": "r", "type": "quantitative", "scale": {"domain": [-0.4, 1.1], "nice": false, "zero": false},
              "axis": {"orient": "left", "values": [-0.2,0,0.2,0.4,0.6,0.8,1.0], "labelExpr": "datum.value == 0 ? '0' : format(datum.value, '.1f')", "labelFontSize": 11, "tickSize": -7, "labelPadding": 15,
                "title": "Cross - Correlation", "titleFontSize": 15, "titleX": -42, "titleY": 262, "titleBaseline": "middle", "titleAlign": "center", "titleAngle": -90}},
            "strokeDash": {"field": "series", "type": "nominal", "scale": {"domain": ["73-85 km vs 52-70 km", "88-100 km vs 52-70 km", "103-118 km vs 52-70 km"], "range": [[9,5],[1,0],[2,3]]}, "legend": null},
            "strokeWidth": {"field": "series", "type": "nominal", "scale": {"domain": ["73-85 km vs 52-70 km", "88-100 km vs 52-70 km", "103-118 km vs 52-70 km"], "range": [1.9, 2.2, 1.6]}, "legend": null}
          }
        },
        {
          "data": {"name": "levels"},
          "mark": {"type": "rule", "color": "black", "strokeWidth": 1.3},
          "encoding": {
            "y": {"field": "r", "type": "quantitative", "scale": {"domain": [-0.4, 1.1], "nice": false, "zero": false},
              "axis": {"orient": "right", "values": [-0.2,0,0.2,0.4,0.6,0.8,1.0], "labels": false, "tickSize": -7, "title": null}}
          }
        },
        {
          "data": {"name": "notes"},
          "transform": [{"filter": "datum.panel == 'A' && datum.kind == 'heading'"}],
          "mark": {"type": "text", "fontSize": 15, "align": "center", "baseline": "middle"},
          "encoding": {
            "x": {"field": "day", "type": "quantitative", "axis": null},
            "y": {"field": "r", "type": "quantitative", "scale": {"domain": [-0.4, 1.1], "nice": false, "zero": false}, "axis": null},
            "text": {"field": "label"}
          }
        },
        {
          "data": {"name": "notes"},
          "transform": [{"filter": "datum.panel == 'A' && datum.kind == 'series'"}],
          "mark": {"type": "text", "fontSize": 11, "fontWeight": "bold", "align": "left", "baseline": "middle"},
          "encoding": {
            "x": {"field": "day", "type": "quantitative", "axis": null},
            "y": {"field": "r", "type": "quantitative", "scale": {"domain": [-0.4, 1.1], "nice": false, "zero": false}, "axis": null},
            "text": {"field": "label"}
          }
        },
        {
          "data": {"name": "notes"},
          "transform": [{"filter": "datum.panel == 'A' && datum.kind == 'small'"}],
          "mark": {"type": "text", "fontSize": 11, "fontWeight": "bold", "align": "center", "baseline": "middle"},
          "encoding": {
            "x": {"field": "day", "type": "quantitative", "axis": null},
            "y": {"field": "r", "type": "quantitative", "scale": {"domain": [-0.4, 1.1], "nice": false, "zero": false}, "axis": null},
            "text": {"field": "label"}
          }
        }
      ],
      "resolve": {"axis": {"x": "independent", "y": "independent"}}
    },
    {
      "width": 1190,
      "height": 255,
      "layer": [
        {
          "data": {"name": "B"},
          "mark": {"type": "line", "clip": true, "color": "black"},
          "encoding": {
            "x": {"field": "day", "type": "quantitative", "scale": {"domain": [-0.7, 123.8], "nice": false, "zero": false},
              "axis": {"orient": "bottom", "values": [0,9,19,21,29,39,49,52,59,69,79,80,89,99,109,111,119], "labelExpr": "['11','20','30','1','9','19','29','1','8','18','28','1','10','20','30','1','10'][indexof([0,9,19,21,29,39,49,52,59,69,79,80,89,99,109,111,119], datum.value)]", "labelFontSize": 11, "tickSize": -8, "labelPadding": 11, "title": null}},
            "y": {"field": "r", "type": "quantitative", "scale": {"domain": [-0.3, 1.05], "nice": false, "zero": false},
              "axis": {"orient": "left", "values": [-0.2,0,0.2,0.4,0.6,0.8], "labelExpr": "datum.value == 0 ? '0' : format(datum.value, '.1f')", "labelFontSize": 11, "tickSize": -7, "labelPadding": 15, "title": null}},
            "strokeDash": {"field": "series", "type": "nominal", "scale": {"domain": ["20 mb vs 30 mb", "52-70 km vs 20 mb", "52-70 km vs 30 mb"], "range": [[9,5],[1,0],[2,3]]}, "legend": null},
            "strokeWidth": {"field": "series", "type": "nominal", "scale": {"domain": ["20 mb vs 30 mb", "52-70 km vs 20 mb", "52-70 km vs 30 mb"], "range": [1.9, 2.2, 1.6]}, "legend": null}
          }
        },
        {
          "data": {"name": "levels"},
          "mark": {"type": "rule", "color": "black", "strokeWidth": 1.3},
          "encoding": {
            "y": {"field": "r", "type": "quantitative", "scale": {"domain": [-0.3, 1.05], "nice": false, "zero": false},
              "axis": {"orient": "right", "values": [-0.2,0,0.2,0.4,0.6,0.8], "labels": false, "tickSize": -7, "title": null}}
          }
        },
        {
          "data": {"name": "notes"},
          "transform": [{"filter": "datum.panel == 'B' && datum.kind == 'heading'"}],
          "mark": {"type": "text", "fontSize": 15, "align": "center", "baseline": "middle"},
          "encoding": {
            "x": {"field": "day", "type": "quantitative", "scale": {"domain": [-0.7, 123.8], "nice": false, "zero": false},
              "axis": {"orient": "bottom", "values": [0,9,20,29,39,50,59,69,80,89.8,99.5,109.7,120], "labelExpr": "['(D1-21)','(D10-30)','(D20-J9)','(D30-J19)','(J9-29)','(J19-F8)','(J29-F18)','(F8-F28)','(F18-M10)','(F28-M20)','(M10-M30)','(M20-A10)','(M30-A20)'][indexof([0,9,20,29,39,50,59,69,80,89.8,99.5,109.7,120], datum.value)]", "labelFontSize": 10, "ticks": false, "labelPadding": 17,
                "title": "Date of Centre Point of 21 Point Cross - Correlation", "titleFontSize": 17, "titlePadding": 8}},
            "y": {"field": "r", "type": "quantitative", "scale": {"domain": [-0.3, 1.05], "nice": false, "zero": false}, "axis": null},
            "text": {"field": "label"}
          }
        },
        {
          "data": {"name": "notes"},
          "transform": [{"filter": "datum.panel == 'B' && datum.kind == 'series'"}],
          "mark": {"type": "text", "fontSize": 11, "fontWeight": "bold", "align": "left", "baseline": "middle"},
          "encoding": {
            "x": {"field": "day", "type": "quantitative", "axis": null},
            "y": {"field": "r", "type": "quantitative", "scale": {"domain": [-0.3, 1.05], "nice": false, "zero": false}, "axis": null},
            "text": {"field": "label"}
          }
        },
        {
          "data": {"name": "notes"},
          "transform": [{"filter": "datum.panel == 'B' && datum.kind == 'small'"}],
          "mark": {"type": "text", "fontSize": 10, "fontWeight": "bold", "align": "center", "baseline": "middle"},
          "encoding": {
            "x": {"field": "day", "type": "quantitative", "axis": null},
            "y": {"field": "r", "type": "quantitative", "scale": {"domain": [-0.3, 1.05], "nice": false, "zero": false}, "axis": null},
            "text": {"field": "label"}
          }
        }
      ],
      "resolve": {"axis": {"x": "independent", "y": "independent"}}
    }
  ]
}
